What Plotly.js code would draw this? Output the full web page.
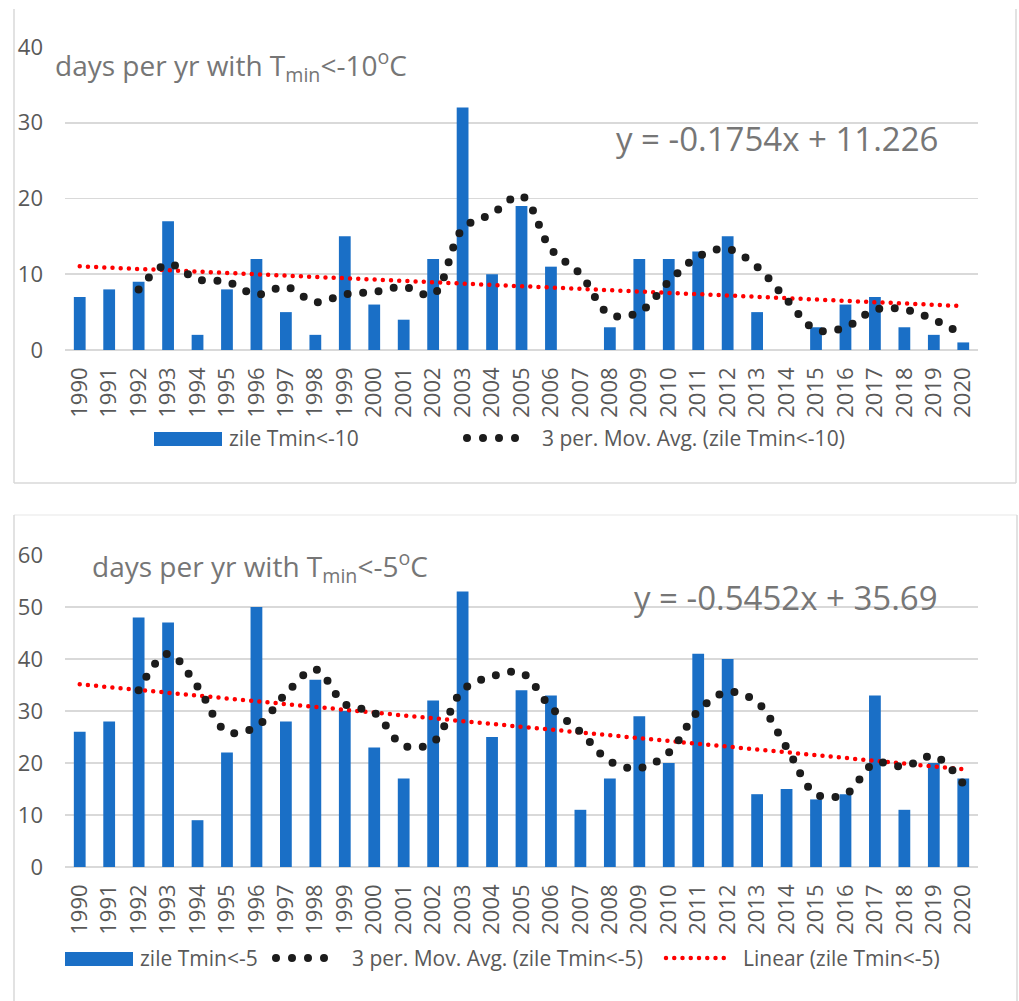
<!DOCTYPE html>
<html>
<head>
<meta charset="utf-8">
<script src="https://cdn.plot.ly/plotly-3.0.1.min.js"></script>
<style>html,body{margin:0;padding:0;background:#fff}#chart{width:1019px;height:1001px}</style>
</head>
<body>
<div id="chart"></div>
<script>
// ---- data ----
const years = ['1990','1991','1992','1993','1994','1995','1996','1997','1998','1999','2000','2001','2002','2003','2004','2005','2006','2007','2008','2009','2010','2011','2012','2013','2014','2015','2016','2017','2018','2019','2020'];
const daysBelow10 = [7,8,9,17,2,8,12,5,2,15,6,4,12,32,10,19,11,0,3,12,12,13,15,5,0,3,6,7,3,2,1];
const daysBelow5 = [26,28,48,47,9,22,50,28,36,30,23,17,32,53,25,34,33,11,17,29,20,41,40,14,15,13,14,33,11,20,17];
const maYears = years.slice(2);
const movAvg10 = [8.00,11.33,9.33,9.00,7.33,8.33,6.33,7.33,7.67,8.33,7.33,16.00,18.00,20.33,13.33,10.00,4.67,5.00,9.00,12.33,13.33,11.00,6.67,2.67,3.00,5.33,5.33,4.00,2.00];
const movAvg5 = [34.00,41.00,34.67,26.00,27.00,33.33,38.00,31.33,29.67,23.33,24.00,34.00,36.67,37.33,30.67,26.00,20.33,19.00,22.00,30.00,33.67,31.67,23.00,14.00,14.00,20.00,19.33,21.33,16.00];
const trendYears = ['1990','2020'];
const trend10 = [11.05, 5.79];
const trend5 = [35.14, 18.79];
const seriesNames = ['zile Tmin<-10','3 per. Mov. Avg. (zile Tmin<-10)','zile Tmin<-5','3 per. Mov. Avg. (zile Tmin<-5)','Linear (zile Tmin<-5)'];
const titleTop = 'days per yr with T<sub>min</sub><-10<sup>o</sup>C';
const titleBot = 'days per yr with T<sub>min</sub><-5<sup>o</sup>C';
const eqTop = 'y = -0.1754x + 11.226';
const eqBot = 'y = -0.5452x + 35.69';

// ---- styling ----
const W = 1019, H = 1001;
const px = x => x / W;
const py = y => 1 - y / H;
const FONT = '"Open Sans", "Noto Sans", sans-serif';
const BLUE = '#1a6fc6';
const GRID = '#d9d9d9';
const TXT = '#595959';
const TTL = '#767676';

const bar = (x, y, xa, ya) => ({type:'bar', x, y, xaxis:xa, yaxis:ya, marker:{color:BLUE}, showlegend:false, hoverinfo:'x+y'});
const ma = (x, y, xa, ya) => ({type:'scatter', mode:'lines', x, y, xaxis:xa, yaxis:ya, line:{color:'#1c1c1c', width:8, dash:'0px,15.5px', shape:'spline', smoothing:1}, showlegend:false});
const tr = (x, y, xa, ya) => ({type:'scatter', mode:'lines', x, y, xaxis:xa, yaxis:ya, line:{color:'#ff0000', width:4.5, dash:'0px,8.2px'}, showlegend:false});

const data = [
  bar(years, daysBelow10, 'x', 'y'),
  tr(trendYears, trend10, 'x', 'y'),
  ma(maYears, movAvg10, 'x', 'y'),
  bar(years, daysBelow5, 'x2', 'y2'),
  tr(trendYears, trend5, 'x2', 'y2'),
  ma(maYears, movAvg5, 'x2', 'y2')
];

const xax = (anchor) => ({domain:[px(65), px(978)], anchor, type:'category', tickangle:-90, showgrid:false, showline:false, zeroline:false, ticks:'', ticklabelstandoff:12, tickfont:{family:FONT, size:22, color:TXT}, fixedrange:true});
const yax = (anchor, dom, range) => ({domain:dom, anchor, range, dtick:10, showgrid:true, gridcolor:GRID, gridwidth:1.6, zeroline:true, zerolinecolor:GRID, zerolinewidth:2, showline:false, ticks:'', ticklabelstandoff:21, tickfont:{family:FONT, size:22, color:TXT}, fixedrange:true});

const ann = (text, x, y, size, color) => ({xref:'paper', yref:'paper', x:px(x), y:py(y), xanchor:'left', yanchor:'middle', showarrow:false, text, font:{family:FONT, size, color}});
const line = (x0,y0,x1,y1,color,width,dash) => ({type:'line', xref:'paper', yref:'paper', x0:px(x0), y0:py(y0), x1:px(x1), y1:py(y1), line:{color, width, dash:dash||'solid'}});
const rect = (x0,y0,x1,y1,color) => ({type:'rect', xref:'paper', yref:'paper', x0:px(x0), y0:py(y0), x1:px(x1), y1:py(y1), fillcolor:color, line:{width:0}});

const layout = {
  width:W, height:H, margin:{l:0,r:0,t:0,b:0}, paper_bgcolor:'#fff', plot_bgcolor:'rgba(0,0,0,0)',
  bargap:0.6, showlegend:false, font:{family:FONT},
  xaxis: xax('y'), yaxis: yax('x', [py(350), py(47)], [0,40]),
  xaxis2: xax('y2'), yaxis2: yax('x2', [py(867), py(555)], [0,60]),
  annotations:[
    ann(titleTop, 53, 66, 28, TTL),
    ann(eqTop, 614, 139, 33, TTL),
    ann(seriesNames[0], 227, 438, 21, TXT),
    ann(seriesNames[1], 540, 438, 21, TXT),
    ann(titleBot, 90, 566, 28, TTL),
    ann(eqBot, 632, 597, 33, TTL),
    ann(seriesNames[2], 138, 958, 21, TXT),
    ann(seriesNames[3], 350, 958, 21, TXT),
    ann(seriesNames[4], 741, 958, 21, TXT)
  ],
  shapes:[
    // chart boxes
    line(14, 9, 14, 483, GRID, 1.5), line(1016, 9, 1016, 483, GRID, 1.5), line(14, 483, 1016, 483, GRID, 1.5),
    line(14, 515, 1017, 515, '#efefef', 1.5), line(14, 515, 14, 1001, GRID, 1.5), line(1017, 515, 1017, 1001, GRID, 1.5),
    // legend symbols
    rect(154, 432, 222, 446, BLUE),
    line(467, 438, 531, 438, '#1c1c1c', 8, '0px,16px'),
    rect(65, 952, 133, 966, BLUE),
    line(276, 958, 340, 958, '#1c1c1c', 8, '0px,16px'),
    line(666, 958, 732, 958, '#ff0000', 4.5, '0px,8.25px')
  ]
};

Plotly.newPlot('chart', data, layout, {staticPlot:true, displayModeBar:false}).then(() => {
  document.querySelectorAll('#chart path').forEach(p => {
    const d = p.style.strokeDasharray || '';
    if (/^0(px)?[ ,]/.test(d)) p.style.strokeLinecap = 'round';
  });
});
</script>
</body>
</html>
